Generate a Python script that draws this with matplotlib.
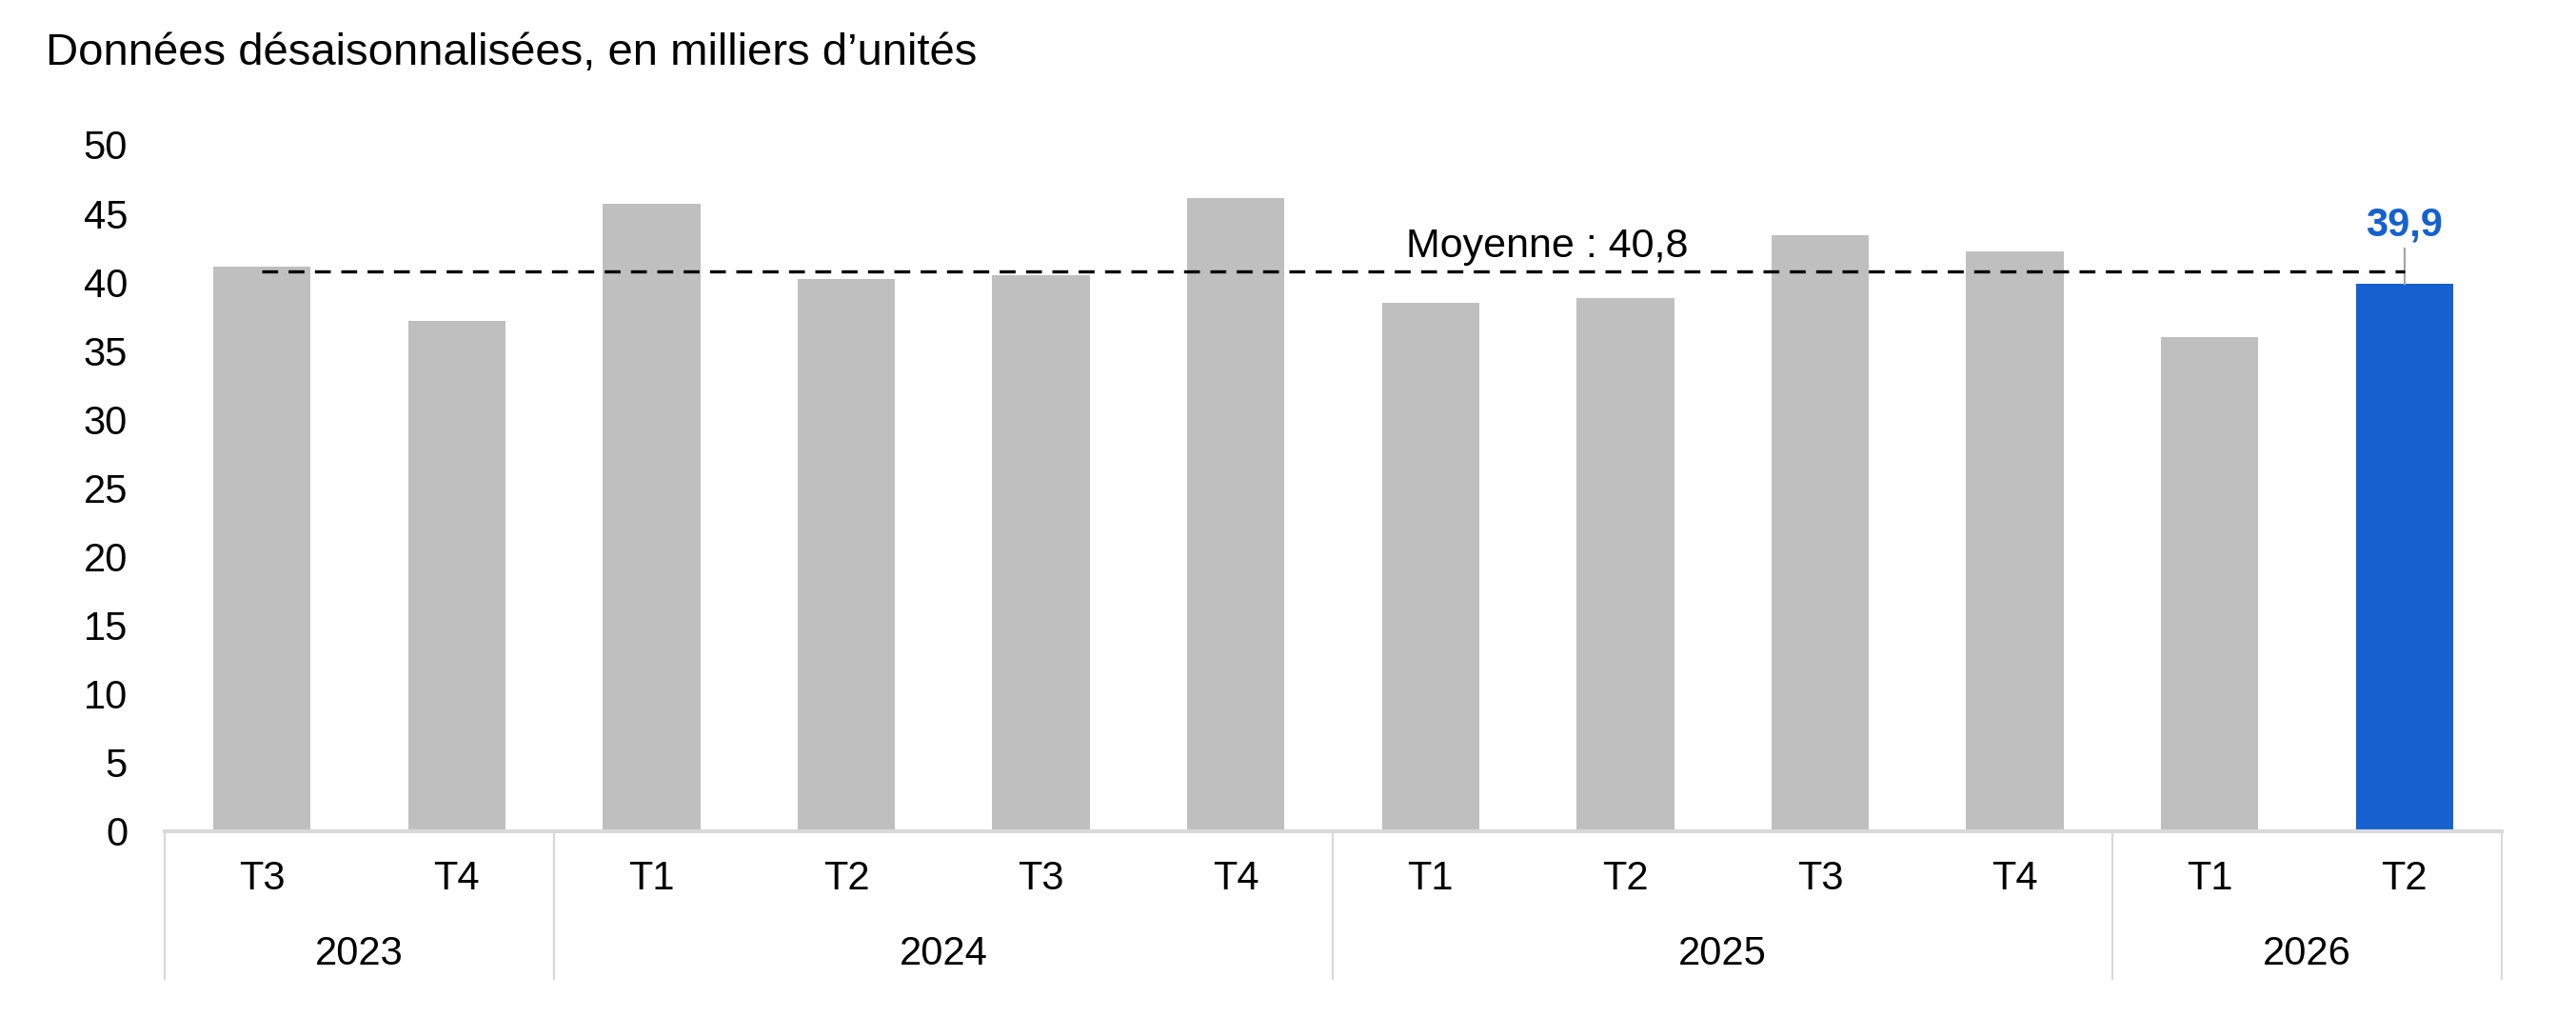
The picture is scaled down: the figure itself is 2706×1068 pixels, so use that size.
import matplotlib
matplotlib.use("Agg")
import matplotlib.pyplot as plt
import matplotlib.transforms as mtransforms

plt.rcParams['font.family'] = ['Liberation Sans', 'DejaVu Sans']

# ---- data ----
quarters = ["T3", "T4", "T1", "T2", "T3", "T4", "T1", "T2", "T3", "T4", "T1", "T2"]
years = ["2023", "2024", "2025", "2026"]
year_counts = [2, 4, 4, 2]
values = [41.1, 37.2, 45.7, 40.2, 40.5, 46.1, 38.5, 38.8, 43.4, 42.2, 36.0, 39.9]
mean_value = 40.8
title = "Données désaisonnalisées, en milliers d’unités"
yticks = [0, 5, 10, 15, 20, 25, 30, 35, 40, 45, 50]

GREY = "#bfbfbf"
BLUE = "#1561cf"
LINE = "#d9d9d9"

fig = plt.figure(figsize=(13.53, 5.34), dpi=200)
ax = fig.add_axes([0.0639, 0.1826, 0.9073, 0.6751])

x = list(range(len(values)))
colors = [GREY] * (len(values) - 1) + [BLUE]
ax.bar(x, values, width=0.5, color=colors, zorder=2)

ax.set_xlim(-0.5, len(values) - 0.5)
ax.set_ylim(0, 50)
ax.set_yticks(yticks)
ax.set_yticklabels([str(v) for v in yticks], fontsize=15)
ax.tick_params(axis='y', length=0, pad=14)
ax.set_xticks([])

for s in ['top', 'right', 'left']:
    ax.spines[s].set_visible(False)
ax.spines['bottom'].set_color(LINE)
ax.spines['bottom'].set_linewidth(1.5)
ax.spines['bottom'].set_zorder(3)

# mean line
ax.plot([x[0], x[-1]], [mean_value, mean_value], color="black", lw=1.2,
        linestyle=(0, (5, 3.3)), zorder=4)
ax.text(6.6, mean_value + 1.0, "Moyenne : " + f"{mean_value:.1f}".replace('.', ','),
        ha='center', va='baseline', fontsize=15.5, color='black', zorder=5)

# last value leader and label
ax.plot([x[-1], x[-1]], [values[-1], 42.45], color="#a6a6a6", lw=0.8, zorder=3)
ax.text(x[-1], 43.4, f"{values[-1]:.1f}".replace('.', ','), ha='center',
        va='baseline', fontsize=15, fontweight='bold', color=BLUE)

# category axis
trans = mtransforms.blended_transform_factory(ax.transData, ax.transAxes)
for i, q in enumerate(quarters):
    ax.text(i, -0.0693, q, transform=trans, ha='center', va='center',
            fontsize=15, color='black')
start = 0
bounds = [-0.5]
for yr, n in zip(years, year_counts):
    center = start + (n - 1) / 2
    ax.text(center, -0.179, yr, transform=trans, ha='center', va='center',
            fontsize=15, color='black')
    start += n
    bounds.append(start - 0.5)
for b in bounds:
    ax.plot([b, b], [0, -0.215], transform=trans, color=LINE, lw=0.8,
            clip_on=False, zorder=1)

fig.text(48 / 2706, 1 - 68 / 1068, title, ha='left', va='baseline',
         fontsize=17, color='black')

fig.savefig("out.png", dpi=200, facecolor='white')
